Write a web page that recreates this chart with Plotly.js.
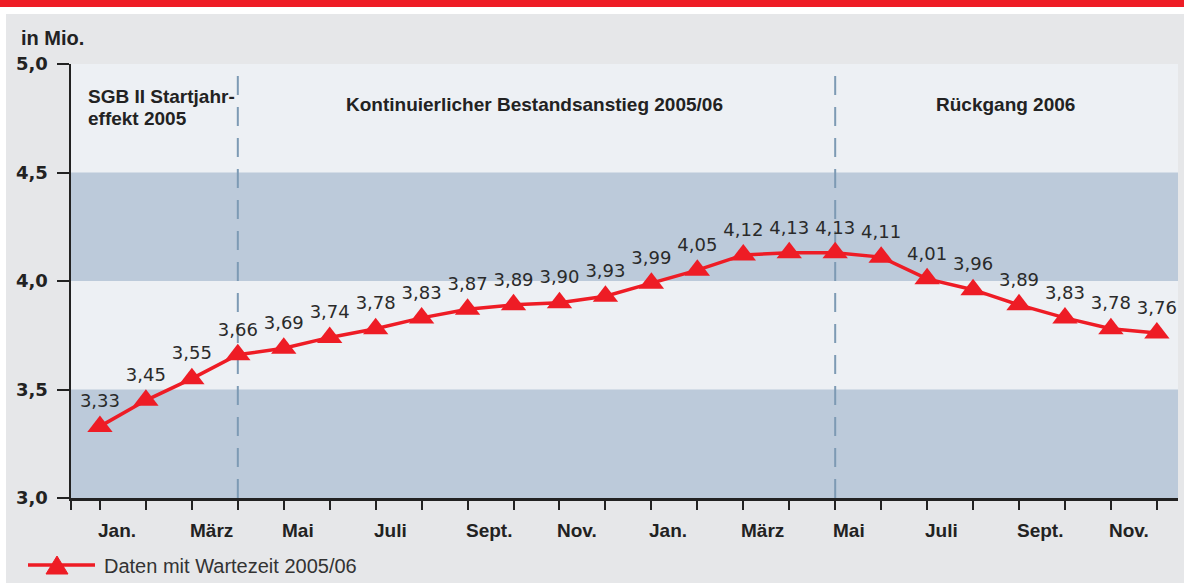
<!DOCTYPE html>
<html>
<head>
<meta charset="utf-8">
<script src="https://cdn.plot.ly/plotly-3.0.1.min.js"></script>
<style>
html,body{margin:0;padding:0;background:#fff;}
#chart{width:1184px;height:583px;}
</style>
</head>
<body>
<div id="chart"></div>
<script>
// ---- data ----
const monthIndex = [0,1,2,3,4,5,6,7,8,9,10,11,12,13,14,15,16,17,18,19,20,21,22,23];
const values = [3.33,3.45,3.55,3.66,3.69,3.74,3.78,3.83,3.87,3.89,3.90,3.93,
                3.99,4.05,4.12,4.13,4.13,4.11,4.01,3.96,3.89,3.83,3.78,3.76];
const monthLabels = ["Jan.","","März","","Mai","","Juli","","Sept.","","Nov.","",
                     "Jan.","","März","","Mai","","Juli","","Sept.","","Nov.",""];
const yTicks = [3.0,3.5,4.0,4.5,5.0];
const bands = [[3.0,3.5],[4.0,4.5]];
const phaseBreaks = [3,16];
const phaseLabels = ["Kontinuierlicher Bestandsanstieg 2005/06","Rückgang 2006"];
const firstPhase = ["SGB II Startjahr-","effekt 2005"];
const seriesName = "Daten mit Wartezeit 2005/06";
const unitLabel = "in Mio.";

// ---- geometry helpers (pixel -> paper) ----
const W = 1184, H = 583;
const M = {l:71, r:6, t:64, b:85};
const PW = W - M.l - M.r, PH = H - M.t - M.b;
const px = x => (x - M.l) / PW;
const py = y => (H - M.b - y) / PH;

const RED = "#ee1c25";
const DARK = "#222222";
const WORD_FONT = "Liberation Sans, Arial, sans-serif";
const NUM_FONT = "DejaVu Sans, sans-serif";

const fmt = v => v.toFixed(2).replace(".", ",");

const trace = {
  x: monthIndex,
  y: values,
  type: "scatter",
  mode: "lines+markers+text",
  name: seriesName,
  line: {color: RED, width: 3.5},
  marker: {symbol: "triangle-up", size: 22, color: RED},
  text: values.map(fmt),
  textposition: "top center",
  textfont: {family: NUM_FONT, size: 18, color: "#2a2a2a"},
  hoverinfo: "skip",
  cliponaxis: false,
  showlegend: false
};

const shapes = [];
// outer frame: white strip + red bar at top, white strip at left
shapes.push({type:"rect", xref:"paper", yref:"paper", x0:px(0), x1:px(W), y0:py(14), y1:py(0), fillcolor:"#ffffff", line:{width:0}, layer:"below"});
shapes.push({type:"rect", xref:"paper", yref:"paper", x0:px(0), x1:px(6), y0:py(H), y1:py(0), fillcolor:"#ffffff", line:{width:0}, layer:"below"});
shapes.push({type:"rect", xref:"paper", yref:"paper", x0:px(0), x1:px(W), y0:py(7), y1:py(0), fillcolor:RED, line:{width:0}, layer:"below"});
// horizontal bands
bands.forEach(b => shapes.push({type:"rect", xref:"paper", yref:"y", x0:0, x1:1, y0:b[0], y1:b[1], fillcolor:"#bccada", line:{width:0}, layer:"below"}));
// phase separators
phaseBreaks.forEach(m => shapes.push({type:"line", xref:"x", yref:"paper", x0:m, x1:m, y0:0, y1:1, line:{color:"#7d9ab4", width:2, dash:"19px,12px"}, layer:"below"}));
// legend glyph
shapes.push({type:"line", xref:"paper", yref:"paper", x0:px(28), x1:px(95), y0:py(565), y1:py(565), line:{color:RED, width:3.5}});
shapes.push({type:"path", xref:"paper", yref:"paper",
  path:`M ${px(46)} ${py(574)} L ${px(68)} ${py(574)} L ${px(57)} ${py(556)} Z`,
  fillcolor:RED, line:{color:RED, width:1}});

const annotations = [];
annotations.push({text:unitLabel, xref:"paper", yref:"paper", x:px(19), y:py(38), xanchor:"left", yanchor:"middle", showarrow:false, font:{family:WORD_FONT, size:20, color:DARK, weight:"bold"}});
annotations.push({text:firstPhase[0], xref:"x", yref:"paper", x:-0.3, y:py(97), xanchor:"left", yanchor:"middle", showarrow:false, font:{family:WORD_FONT, size:19, color:DARK, weight:"bold"}});
annotations.push({text:firstPhase[1], xref:"x", yref:"paper", x:-0.3, y:py(118), xanchor:"left", yanchor:"middle", showarrow:false, font:{family:WORD_FONT, size:19, color:DARK, weight:"bold"}});
annotations.push({text:phaseLabels[0], xref:"x", yref:"paper", x:9.46, y:py(104), xanchor:"center", yanchor:"middle", showarrow:false, font:{family:WORD_FONT, size:19, color:DARK, weight:"bold"}});
annotations.push({text:phaseLabels[1], xref:"x", yref:"paper", x:19.7, y:py(104), xanchor:"center", yanchor:"middle", showarrow:false, font:{family:WORD_FONT, size:19, color:DARK, weight:"bold"}});
// month labels (left-aligned at their tick)
monthLabels.forEach((t,i) => { if (t) annotations.push({text:t, xref:"x", yref:"paper", x:monthIndex[i], y:py(530), xanchor:"left", yanchor:"middle", xshift:-4, showarrow:false, font:{family:WORD_FONT, size:19, color:DARK, weight:"bold"}}); });
// legend text
annotations.push({text:seriesName, xref:"paper", yref:"paper", x:px(102), y:py(566), xanchor:"left", yanchor:"middle", showarrow:false, font:{family:WORD_FONT, size:20, color:"#333333"}});

const layout = {
  width: W, height: H,
  margin: M,
  paper_bgcolor: "#e6e7e9",
  plot_bgcolor: "#edf0f4",
  separators: ",.",
  showlegend: false,
  xaxis: {
    range: [-0.63, 23.46],
    tickmode: "array",
    tickvals: [-0.63].concat(monthIndex),
    showticklabels: false,
    ticks: "outside", ticklen: 9, tickwidth: 2, tickcolor: DARK,
    showline: true, linecolor: DARK, linewidth: 2.5,
    showgrid: false, zeroline: false, fixedrange: true
  },
  yaxis: {
    range: [3, 5],
    tickmode: "array",
    tickvals: yTicks,
    tickformat: ".1f",
    ticks: "outside", ticklen: 12, tickwidth: 2, tickcolor: DARK,
    ticklabelstandoff: 5,
    tickfont: {family: NUM_FONT, size: 18, color: DARK, weight: "bold"},
    showline: true, linecolor: DARK, linewidth: 2.5,
    showgrid: false, zeroline: false, fixedrange: true
  },
  shapes: shapes,
  annotations: annotations
};

Plotly.newPlot("chart", [trace], layout, {displayModeBar: false, staticPlot: true});
</script>
</body>
</html>
